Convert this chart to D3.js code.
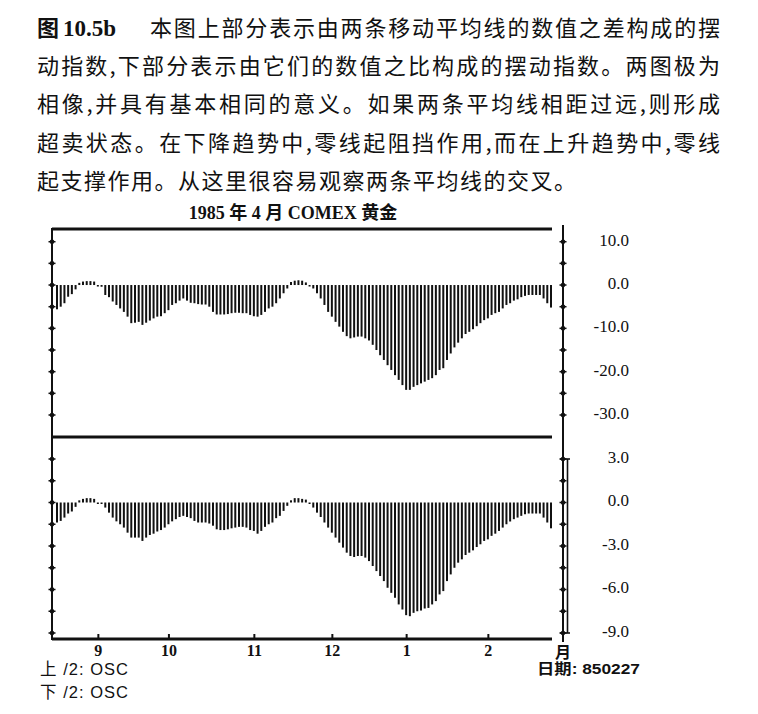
<!DOCTYPE html>
<html>
<head>
<meta charset="utf-8">
<script src="https://cdn.jsdelivr.net/npm/d3@7"></script>
<style>
  body { margin: 0; background: #fff; }
  svg { display: block; }
  .cap { font-family: "Noto Sans CJK SC", sans-serif; font-size: 22px; fill: #111; }
  .num { font-family: "Liberation Serif", "Noto Sans CJK SC", serif; fill: #111; }
  .foot { font-family: "Liberation Sans", "Noto Sans CJK SC", sans-serif; font-size: 16.5px; fill: #111; }
</style>
</head>
<body>
<svg width="758" height="714"></svg>
<script>
// caption lines
const CAPTION = [
  '本图上部分表示由两条移动平均线的数值之差构成的摆',
  '动指数,下部分表示由它们的数值之比构成的摆动指数。两图极为',
  '相像,并具有基本相同的意义。如果两条平均线相距过远,则形成',
  '超卖状态。在下降趋势中,零线起阻挡作用,而在上升趋势中,零线',
  '起支撑作用。从这里很容易观察两条平均线的交叉。'
];

// x axis: trading-day index of the first day of each month
const MONTH_LABELS = ['9', '10', '11', '12', '1', '2'];
const MONTH_START_DAY = [11, 30, 53, 74, 94, 116];

// upper panel: difference oscillator, one value per trading day (Aug 15 1984 .. Feb 27 1985)
const DIFF_OSC = [
  -5.6, -5.0, -4.2, -2.7, -2.1, -1.0, 0.5, 0.8, 0.9, 0.9,
  0.8, -0.3, -0.4, -2.3, -2.8, -3.8, -4.6, -5.4, -6.2, -7.3,
  -8.8, -8.7, -8.5, -9.2, -8.7, -8.2, -7.7, -7.3, -7.2, -6.5,
  -5.8, -4.6, -4.2, -3.6, -3.1, -3.6, -4.1, -4.2, -4.4, -4.5,
  -4.5, -5.0, -6.2, -6.8, -6.8, -6.8, -6.7, -6.5, -6.4, -6.4,
  -6.5, -6.5, -6.9, -7.2, -7.3, -6.9, -6.2, -5.4, -5.0, -4.2,
  -3.1, -1.9, -0.8, 0.7, 1.0, 1.1, 1.0, 0.6, -0.3, -0.8,
  -1.9, -3.1, -4.6, -6.2, -7.3, -8.5, -9.6, -10.8, -11.8, -12.3,
  -12.1, -11.9, -11.9, -12.3, -12.8, -13.8, -15.0, -16.2, -17.3, -18.5,
  -19.6, -20.8, -21.9, -23.1, -24.2, -24.2, -23.5, -23.1, -22.7, -22.3,
  -21.9, -21.5, -20.8, -19.6, -19.2, -17.3, -15.8, -14.4, -13.3, -12.3,
  -11.3, -10.8, -10.2, -9.5, -8.8, -8.1, -7.7, -6.9, -6.5, -6.2,
  -5.4, -4.6, -4.2, -3.6, -3.3, -2.8, -2.5, -2.3, -2.3, -2.3,
  -2.3, -3.1, -4.2, -5.2
];

// lower panel: ratio oscillator
const RATIO_OSC = [
  -1.38, -1.27, -1.04, -0.76, -0.62, -0.3, 0.15, 0.25, 0.3, 0.3,
  0.25, -0.05, -0.1, -0.35, -0.7, -1.04, -1.3, -1.5, -1.73, -2.08,
  -2.42, -2.42, -2.42, -2.65, -2.42, -2.24, -2.15, -2.0, -1.9, -1.73,
  -1.5, -1.3, -1.15, -1.0, -0.92, -1.0, -1.08, -1.27, -1.38, -1.38,
  -1.38, -1.45, -1.6, -1.85, -1.9, -1.9, -1.85, -1.78, -1.73, -1.68,
  -1.68, -1.73, -1.9, -1.96, -2.15, -1.96, -1.68, -1.5, -1.38, -1.08,
  -0.92, -0.58, -0.23, 0.15, 0.3, 0.3, 0.25, 0.2, -0.05, -0.35,
  -0.7, -1.0, -1.38, -1.73, -2.08, -2.42, -2.77, -3.11, -3.46, -3.69,
  -3.76, -3.69, -3.69, -3.8, -4.04, -4.38, -4.73, -5.07, -5.42, -5.88,
  -6.23, -6.57, -7.03, -7.38, -7.77, -7.84, -7.61, -7.5, -7.45, -7.31,
  -7.27, -7.03, -6.8, -6.34, -6.11, -5.42, -4.96, -4.5, -4.15, -3.92,
  -3.62, -3.46, -3.3, -3.07, -2.88, -2.65, -2.54, -2.3, -2.15, -1.96,
  -1.73, -1.5, -1.31, -1.15, -1.04, -0.92, -0.81, -0.76, -0.76, -0.76,
  -0.76, -1.04, -1.38, -1.78
];

const DIFF_LABELS = [10, 0, -10, -20, -30];
const DIFF_MARKS = [10, 5, 0, -5, -10, -15, -20, -25, -30];
const RATIO_LABELS = [3, 0, -3, -6, -9];
const RATIO_MARKS = [3, 1.5, 0, -1.5, -3, -4.5, -6, -7.5, -9];

const svg = d3.select('svg');
const INK = '#111';

// ---- caption ----
let cap = svg.append('g');
cap.append('text').attr('class', 'cap').attr('x', 37).attr('y', 36)
  .style('font-weight', 'bold').text('图');
cap.append('text').attr('class', 'num').attr('x', 63).attr('y', 36)
  .style('font-size', '23px').style('font-weight', 'bold').text('10.5b');
CAPTION.forEach((line, i) => {
  let t = cap.append('text').attr('class', 'cap')
    .attr('x', i === 0 ? 150 : 37)
    .attr('y', 36 + i * 38.2)
    .text(line);
  if (i < 4) {
    t.attr('textLength', i === 0 ? 570 : 683).attr('lengthAdjust', 'spacing');
  } else {
    t.style('letter-spacing', '1.5px');
  }
});

// ---- scales ----
const left = 52, right = 551, axisX = 563;
const topY = 229, midY = 437, botY = 639;

const x = d3.scaleLinear().domain([0, DIFF_OSC.length - 1]).range([57, 551]);
const yTop = d3.scaleLinear().domain([10, -30]).range([241.7, 415]);
const yBot = d3.scaleLinear().domain([3, -9]).range([459, 633]);

// title
svg.append('text').attr('class', 'num')
  .attr('x', 293).attr('y', 219)
  .attr('text-anchor', 'middle')
  .style('font-size', '18px').style('font-weight', 'bold')
  .text('1985 年 4 月 COMEX 黄金');

// frame lines
let frame = svg.append('g').attr('stroke', INK).attr('fill', 'none');
[topY, midY, botY].forEach((yy) => {
  frame.append('line').attr('x1', left).attr('x2', right + 1)
    .attr('y1', yy).attr('y2', yy).attr('stroke-width', 3);
});
frame.append('line').attr('x1', left).attr('x2', left)
  .attr('y1', topY - 1).attr('y2', botY + 1).attr('stroke-width', 2);
frame.append('line').attr('x1', axisX).attr('x2', axisX)
  .attr('y1', 225).attr('y2', 642).attr('stroke-width', 2);
// double bracket on the lower right scale
frame.append('line').attr('x1', axisX + 4.5).attr('x2', axisX + 4.5)
  .attr('y1', yBot(3)).attr('y2', yBot(-9)).attr('stroke-width', 1.6);
[3, -9].forEach((v) => {
  frame.append('line').attr('x1', axisX - 3).attr('x2', axisX + 7)
    .attr('y1', yBot(v)).attr('y2', yBot(v)).attr('stroke-width', 1.6);
});

// dotted tick marks on both vertical axes
function marks(scale, values) {
  [left, axisX].forEach((ax) => {
    let g = svg.append('g');
    g.selectAll('line').data(values).enter().append('line')
      .attr('x1', ax - 3.5).attr('x2', ax + 3.5)
      .attr('y1', (d) => scale(d)).attr('y2', (d) => scale(d))
      .attr('stroke', INK).attr('stroke-width', 1.5);
    g.selectAll('circle').data(values).enter().append('circle')
      .attr('cx', ax).attr('cy', (d) => scale(d)).attr('r', 2.3)
      .attr('fill', INK);
  });
}
marks(yTop, DIFF_MARKS);
marks(yBot, RATIO_MARKS);

// right labels
function labels(scale, values) {
  svg.append('g').selectAll('text').data(values).enter().append('text')
    .attr('class', 'num')
    .attr('x', 629).attr('y', (d) => scale(d) - 2)
    .attr('dy', '0.35em')
    .attr('text-anchor', 'end')
    .style('font-size', '17px')
    .text((d) => d.toFixed(1));
}
labels(yTop, DIFF_LABELS);
labels(yBot, RATIO_LABELS);

// bars
function bars(scale, data) {
  let z = scale(0);
  svg.append('g').selectAll('rect').data(data).enter().append('rect')
    .attr('x', (d, i) => x(i) - 1)
    .attr('width', 2)
    .attr('y', (d) => Math.min(scale(d), z))
    .attr('height', (d) => Math.max(1.5, Math.abs(scale(d) - z)))
    .attr('fill', INK);
}
bars(yTop, DIFF_OSC);
bars(yBot, RATIO_OSC);

// month axis
let xAxis = svg.append('g')
  .attr('transform', 'translate(0,' + botY + ')')
  .call(d3.axisBottom(x)
    .tickValues(MONTH_START_DAY)
    .tickFormat((d, i) => MONTH_LABELS[i])
    .tickSizeInner(-5).tickSizeOuter(0).tickPadding(6));
xAxis.select('.domain').remove();
xAxis.selectAll('.tick line').attr('stroke', INK).attr('stroke-width', 2);
xAxis.selectAll('.tick text')
  .attr('fill', INK)
  .style('font-family', '"Liberation Serif", serif')
  .style('font-size', '16px').style('font-weight', 'bold');

svg.append('text').attr('class', 'num')
  .attr('x', axisX).attr('y', 658).attr('text-anchor', 'middle')
  .style('font-size', '16px').style('font-weight', 'bold').text('月');

// footer
svg.append('text').attr('class', 'foot').attr('x', 40).attr('y', 675)
  .attr('textLength', 88).attr('lengthAdjust', 'spacing').text('上 /2: OSC');
svg.append('text').attr('class', 'foot').attr('x', 40).attr('y', 698)
  .attr('textLength', 88).attr('lengthAdjust', 'spacing').text('下 /2: OSC');
svg.append('text').attr('class', 'foot')
  .attr('x', 537).attr('y', 674)
  .style('font-weight', 'bold').style('font-size', '15px')
  .attr('textLength', 103).attr('lengthAdjust', 'spacingAndGlyphs')
  .text('日期: 850227');
</script>
</body>
</html>
